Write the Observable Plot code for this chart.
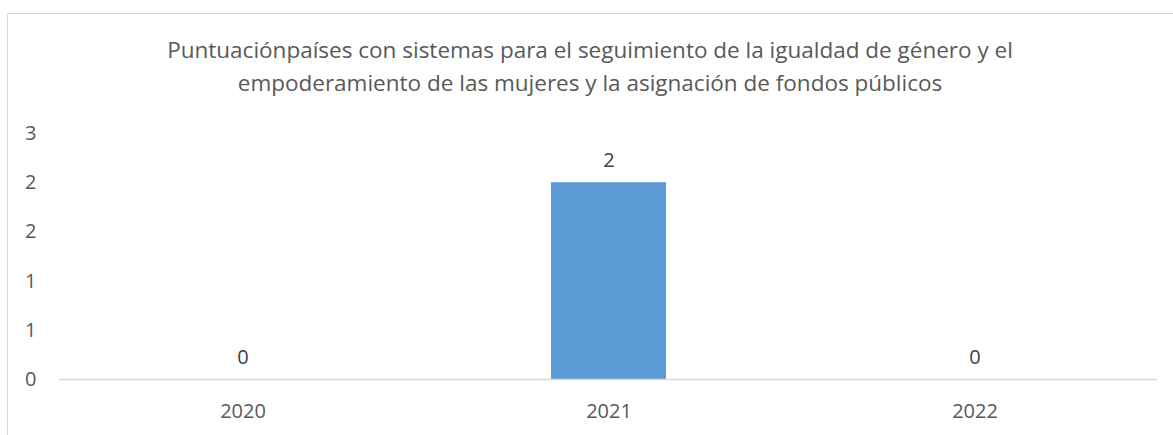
<!DOCTYPE html>
<html>
<head>
<meta charset="utf-8">
<script src="https://cdn.jsdelivr.net/npm/d3@7"></script>
<script src="https://cdn.jsdelivr.net/npm/@observablehq/plot@0.6"></script>
<style>
  html, body { margin: 0; padding: 0; background: #fff; }
  body { width: 1173px; height: 435px; position: relative; overflow: hidden; font-family: "Open Sans", sans-serif; }
  #frame { position: absolute; left: 7px; top: 13px; width: 1300px; height: 600px; border-top: 1.5px solid #d9d9d9; border-left: 1.5px solid #d9d9d9; box-sizing: border-box; }
  #title { position: absolute; left: 0; top: 0; width: 1180px; text-align: center; color: #595959; font-size: 22.5px; line-height: 33px; padding-top: 33px; }
  #title div { height: 33px; white-space: nowrap; }
  #chart { position: absolute; left: 0; top: 110px; }
</style>
</head>
<body>
<div id="frame"></div>
<div id="title"></div>
<div id="chart"></div>
<script>
const titleLines = [
  "Puntuaciónpaíses con sistemas para el seguimiento de la igualdad de género y el",
  "empoderamiento de las mujeres y la asignación de fondos públicos"
];
const years = ["2020", "2021", "2022"];
const values = [0, 2, 0];
const yTicks = [0, 0.5, 1, 1.5, 2, 2.5];

const titleEl = document.getElementById("title");
titleLines.forEach(t => { const d = document.createElement("div"); d.textContent = t; titleEl.appendChild(d); });

const data = years.map((y, i) => ({year: y, value: values[i]}));

const chart = Plot.plot({
  width: 1173,
  height: 325,
  marginLeft: 59,
  marginRight: 16,
  marginTop: 23,
  marginBottom: 56,
  style: { fontFamily: "Open Sans, sans-serif", fontSize: "20px", color: "#595959", background: "transparent" },
  x: { domain: years, paddingInner: 0.686, paddingOuter: 0.343, label: null },
  y: { domain: [0, 2.5], label: null },
  marks: [
    Plot.axisY({ ticks: yTicks, tickSize: 0, tickPadding: 23, tickFormat: d => String(Math.round(d)), fill: "#595959", fontSize: 20 }),
    Plot.axisX({ tickSize: 0, tickPadding: 24, fill: "#595959", fontSize: 20 }),
    Plot.barY(data, { x: "year", y: "value", fill: "#5b9bd5" }),
    Plot.ruleY([0], { stroke: "#d9d9d9", strokeWidth: 1.5 }),
    Plot.text(data, { x: "year", y: "value", text: d => String(d.value), lineAnchor: "bottom", dy: -16, fill: "#404040", fontSize: 20 })
  ]
});
document.getElementById("chart").appendChild(chart);
</script>
</body>
</html>
